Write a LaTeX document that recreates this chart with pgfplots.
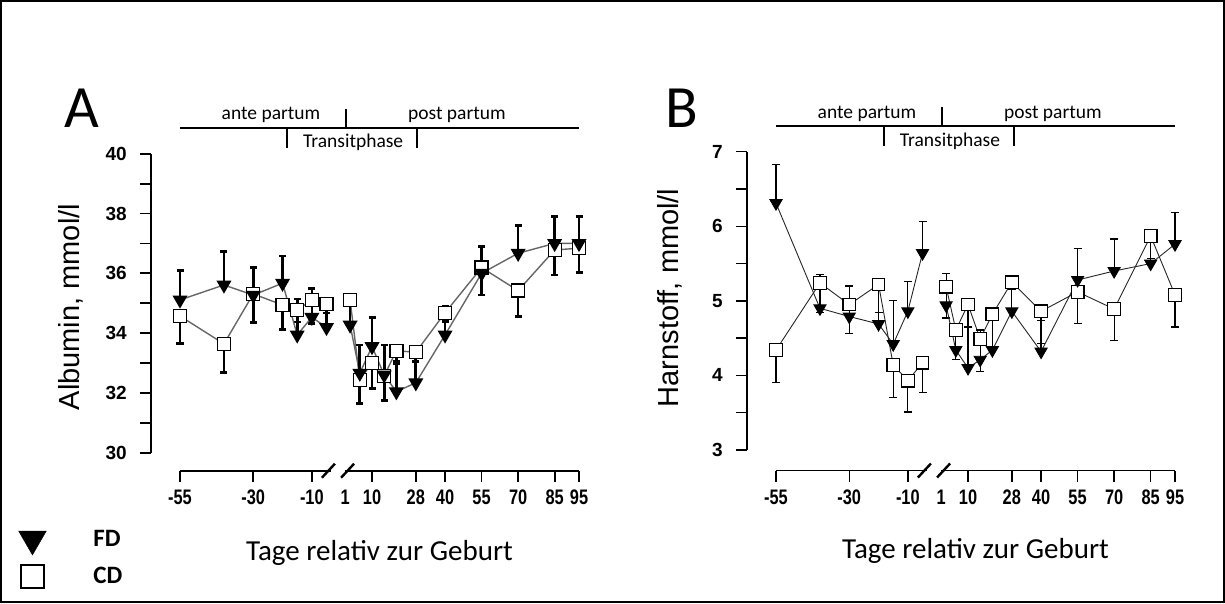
\documentclass[border=0pt]{standalone}
\usepackage{pgfplots}
\pgfplotsset{compat=1.18}
\usepackage{pgfplotstable}
\usepackage{fontspec}
\setmainfont{Carlito}
\newfontfamily\arial{Liberation Sans}
\newfontfamily\arialn[FakeStretch=0.78]{Liberation Sans}

% broken day axis: 2.93 units/day before birth, 2.435 units/day after
\pgfplotsset{
  x coord trafo/.code={\pgfmathparse{(#1<0)*2.93*(#1+55)+(#1>=0)*(192+2.435*(#1-10))}},
  panel/.style={
    scale only axis, width=399pt,
    axis lines=left, axis line style={-},
    xmin=-55, xmax=95,
    xtick={-55,-30,-10,10,28,40,55,70,85,95},
    xticklabels={-55,-30,-10,10,28,40,55,70,85,95},
    extra x ticks={1}, extra x tick labels={1},
    extra x tick style={major tick length=0pt, xticklabel style={xshift=-5pt, yshift=-11pt}},
    tick align=outside, major tick length=11pt, minor tick length=11pt,
    axis y line shift=29pt,
    xticklabel style={font=\arialn\bfseries\fontsize{21}{21}\selectfont, inner sep=0pt, yshift=-8pt},
    yticklabel style={font=\arial\bfseries\fontsize{19}{19}\selectfont, inner sep=0pt, xshift=-13pt},
    xlabel={Tage relativ zur Geburt},
    every axis x label/.style={at={(rel axis cs:0.5,0)}, anchor=base, yshift=-108pt,
      font=\fontsize{29}{30}\selectfont},
    clip=false, unbounded coords=jump,
  },
}

\pgfplotstableread{
day y e
-55 35.11 0.98
-40 35.61 1.11
-30 35.27 0.93
-20 35.67 0.91
-15 33.94 1.20
-10 34.53 0.97
-5 34.19 0.97
0 nan 0
1 34.27 0.85
5 32.66 0.94
10 33.55 0.98
15 32.60 1.00
20 32.04 0.95
28 32.34 1.04
40 33.94 0.96
55 36.00 0.89
70 36.67 0.93
85 37.00 0.90
95 37.00 0.90
}\fdA

\pgfplotstableread{
day y e
-55 34.57 0.91
-40 33.64 0.96
-30 35.31 0.96
-20 34.94 0.81
-15 34.77 0.40
-10 35.11 0.78
-5 34.97 0.30
0 nan 0
1 35.11 0.20
5 32.43 0.78
10 33.01 0.86
15 32.57 0.83
20 33.41 0.35
28 33.36 0.30
40 34.68 0.30
55 36.19 0.92
70 35.42 0.87
85 36.78 0.84
95 36.84 0.82
}\cdA

\pgfplotstableread{
day y e
-55 6.31 0.52
-40 4.90 0.45
-30 4.79 0.41
-20 4.69 0.15
-15 4.42 0.59
-10 4.86 0.40
-5 5.64 0.42
0 nan 0
1 4.94 0.43
5 4.34 0.30
10 4.10 0.80
15 4.21 0.40
20 4.34 0.40
28 4.86 0.45
40 4.32 0.42
55 5.28 0.42
70 5.40 0.43
85 5.50 0.45
95 5.76 0.43
}\fdB

\pgfplotstableread{
day y e
-55 4.34 0.44
-40 5.24 0.40
-30 4.95 0.39
-20 5.22 0.50
-15 4.14 0.44
-10 3.93 0.42
-5 4.17 0.40
0 nan 0
1 5.19 0.42
5 4.61 0.40
10 4.95 0.30
15 4.49 0.44
20 4.82 0.45
28 5.25 0.10
40 4.86 0.43
55 5.12 0.42
70 4.89 0.42
85 5.87 0.30
95 5.08 0.43
}\cdB

\begin{document}
\begin{tikzpicture}
\useasboundingbox (0,0) rectangle (1225pt,603pt);
\draw[line width=2pt] (1pt,1pt) rectangle (1224pt,602pt);

% ---------- A: Albumin ----------
\begin{axis}[panel,
  at={(180pt,150.3pt)}, anchor=south west, height=299pt,
  axis x line shift=18pt,
  axis line style={line width=1.8pt}, tick style={line width=1.8pt, black},
  ymin=30, ymax=40,
  ytick={30,32,...,40}, yticklabels={30,32,34,36,38,40},
  minor ytick={31,33,...,39},
  ylabel={Albumin, mmol/l},
  every axis y label/.style={at={([xshift=-100pt]rel axis cs:0,0.487)}, rotate=90, anchor=base,
    font=\arial\fontsize{29}{30}\selectfont},
  legend style={at={(-0.4125,-0.245)}, anchor=north west, draw=none, fill=none,
    font=\bfseries\fontsize{25}{26}\selectfont, row sep=10pt, column sep=45pt},
  legend cell align=left,
]
\addlegendimage{only marks, mark=triangle*, mark size=16pt, mark options={rotate=180, fill=black, draw=black}}
\addlegendentry{FD}
\addlegendimage{only marks, mark=square*, mark size=11.5pt, mark options={fill=white, draw=black, line width=2pt}}
\addlegendentry{CD}

\addplot[draw=black!60, line width=1.4pt, mark=square*, mark size=6.5pt,
  mark options={fill=white, draw=black, line width=1.3pt, solid},
  error bars/.cd, y dir=minus, y explicit,
  error bar style={line width=2.7pt, black},
  error mark options={line width=2.7pt, mark size=3.5pt, black, rotate=90}]
  table[x=day, y=y, y error=e] {\cdA};
\addplot[draw=black!60, line width=1.4pt, mark=triangle*, mark size=7.3pt,
  mark options={rotate=180, fill=black, draw=black, solid},
  error bars/.cd, y dir=plus, y explicit,
  error bar style={line width=2.7pt, black},
  error mark options={line width=2.7pt, mark size=3.5pt, black, rotate=90}]
  table[x=day, y=y, y error=e] {\fdA};

% phases
\draw[line width=2pt] ([yshift=26pt]rel axis cs:0,1) -- ([yshift=26pt]rel axis cs:1,1);
\draw[line width=2pt] ([yshift=26pt]rel axis cs:0.415,1) -- ([yshift=45pt]rel axis cs:0.415,1);
\draw[line width=2pt] ([yshift=26pt]rel axis cs:0.268,1) -- ([yshift=6pt]rel axis cs:0.268,1);
\draw[line width=2pt] ([yshift=26pt]rel axis cs:0.594,1) -- ([yshift=6pt]rel axis cs:0.594,1);
\node[font=\fontsize{19.5}{20}\selectfont, anchor=base] at ([yshift=34pt]rel axis cs:0.228,1) {ante partum};
\node[font=\fontsize{19.5}{20}\selectfont, anchor=base] at ([yshift=34pt]rel axis cs:0.694,1) {post partum};
\node[font=\fontsize{19.5}{20}\selectfont, anchor=base] at ([yshift=6pt]rel axis cs:0.434,1) {Transitphase};
% axis break
\fill[white] ([xshift=-1pt, yshift=-14pt]rel axis cs:0.382,0) rectangle ([xshift=1pt, yshift=-22pt]rel axis cs:0.41,0);
\draw[line width=2.4pt] ([xshift=-6.5pt, yshift=-25pt]rel axis cs:0.372,0) -- ([xshift=6.5pt, yshift=-11pt]rel axis cs:0.372,0);
\draw[line width=2.4pt] ([xshift=-6.5pt, yshift=-25pt]rel axis cs:0.42,0) -- ([xshift=6.5pt, yshift=-11pt]rel axis cs:0.42,0);
\end{axis}

% ---------- B: Harnstoff ----------
\begin{axis}[panel,
  at={(776pt,153pt)}, anchor=south west, height=298.3pt,
  axis x line shift=20.5pt,
  axis line style={line width=1.4pt}, tick style={line width=1.4pt, black},
  ymin=3, ymax=7,
  ytick={3,4,...,7}, yticklabels={3,4,5,6,7},
  minor ytick={3.5,4.5,5.5,6.5},
  ylabel={Harnstoff, mmol/l},
  every axis y label/.style={at={([xshift=-98pt]rel axis cs:0,0.51)}, rotate=90, anchor=base,
    font=\arial\fontsize{29}{30}\selectfont},
]
\addplot[draw=black!85, line width=0.9pt, mark=square*, mark size=6.3pt,
  mark options={fill=white, draw=black, line width=1.2pt, solid},
  error bars/.cd, y dir=minus, y explicit,
  error bar style={line width=1.2pt, black},
  error mark options={line width=1.2pt, mark size=4pt, black, rotate=90}]
  table[x=day, y=y, y error=e] {\cdB};
\addplot[draw=black!85, line width=0.9pt, mark=triangle*, mark size=7pt,
  mark options={rotate=180, fill=black, draw=black, solid},
  error bars/.cd, y dir=plus, y explicit,
  error bar style={line width=1.2pt, black},
  error mark options={line width=1.2pt, mark size=4pt, black, rotate=90}]
  table[x=day, y=y, y error=e] {\fdB};

\draw[line width=2pt] ([yshift=25.5pt]rel axis cs:0,1) -- ([yshift=25.5pt]rel axis cs:1,1);
\draw[line width=2pt] ([yshift=25.5pt]rel axis cs:0.415,1) -- ([yshift=44.5pt]rel axis cs:0.415,1);
\draw[line width=2pt] ([yshift=25.5pt]rel axis cs:0.271,1) -- ([yshift=5.5pt]rel axis cs:0.271,1);
\draw[line width=2pt] ([yshift=25.5pt]rel axis cs:0.596,1) -- ([yshift=5.5pt]rel axis cs:0.596,1);
\node[font=\fontsize{19.5}{20}\selectfont, anchor=base] at ([yshift=33.5pt]rel axis cs:0.228,1) {ante partum};
\node[font=\fontsize{19.5}{20}\selectfont, anchor=base] at ([yshift=33.5pt]rel axis cs:0.694,1) {post partum};
\node[font=\fontsize{19.5}{20}\selectfont, anchor=base] at ([yshift=5.5pt]rel axis cs:0.436,1) {Transitphase};
\fill[white] ([xshift=-1pt, yshift=-16.5pt]rel axis cs:0.382,0) rectangle ([xshift=1pt, yshift=-24.5pt]rel axis cs:0.41,0);
\draw[line width=2.4pt] ([xshift=-6.5pt, yshift=-27.5pt]rel axis cs:0.372,0) -- ([xshift=6.5pt, yshift=-13.5pt]rel axis cs:0.372,0);
\draw[line width=2.4pt] ([xshift=-6.5pt, yshift=-27.5pt]rel axis cs:0.42,0) -- ([xshift=6.5pt, yshift=-13.5pt]rel axis cs:0.42,0);
\end{axis}

\node[font=\fontsize{60}{60}\selectfont, anchor=base west, inner sep=0pt] at (64pt,475pt) {A};
\node[font=\fontsize{60}{60}\selectfont, anchor=base west, inner sep=0pt] at (665pt,475pt) {B};
\end{tikzpicture}
\end{document}
